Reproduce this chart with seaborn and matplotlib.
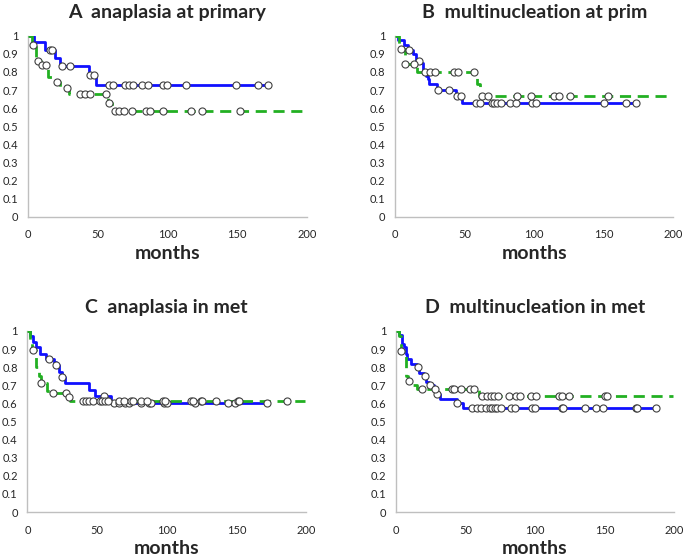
"""
Kaplan-Meier style survival panels (A-D): blue solid vs green dashed groups,
open circles for censored cases.
"""

import numpy as np
import pandas as pd
import matplotlib
matplotlib.use("Agg")
import matplotlib.pyplot as plt
import seaborn as sns

# ── Data ─────────────────────────────────────────────────────────────────────

# A  anaplasia at primary
A_BLUE_T = [4, 12, 19.5, 23, 44, 48.5]
A_BLUE_S = [0.963, 0.92, 0.88, 0.835, 0.785, 0.728]
A_BLUE_END = 172
A_BLUE_CENS = [16, 17.5, 24.5, 30, 44.5, 47, 58, 61, 69.5, 72.5, 75.5, 82, 86,
               97, 99.5, 113, 149, 165, 172]
A_GREEN_T = [3, 5.5, 9, 14.5, 20, 23, 29.5, 57, 60]
A_GREEN_S = [0.95, 0.862, 0.836, 0.77, 0.744, 0.71, 0.676, 0.629, 0.583]
A_GREEN_END = 199
A_GREEN_CENS = [3.6, 7, 10, 12.7, 20.8, 27.8, 37.6, 41, 44.7, 56, 58, 62, 65.3,
                68.9, 74.9, 84.4, 87.3, 96.9, 117, 125, 152]

# B  multinucleation at prim
B_BLUE_T = [2, 6, 9.5, 12.5, 15, 18.5, 20, 22, 23.5, 24.5, 30, 44, 48]
B_BLUE_S = [0.975, 0.95, 0.92, 0.9, 0.862, 0.85, 0.8, 0.78, 0.76, 0.735, 0.70,
            0.667, 0.628]
B_BLUE_END = 173
B_BLUE_CENS = [10, 17.3, 21.3, 30.5, 38.4, 44.5, 47.5, 58.3, 61.2, 69.3, 71,
               73.4, 76.3, 82.5, 86.6, 98.6, 101, 150, 165.7, 172.9]
B_GREEN_T = [2.4, 7, 15.8, 58.7, 61]
B_GREEN_S = [0.926, 0.846, 0.8, 0.733, 0.667]
B_GREEN_END = 199
B_GREEN_CENS = [4, 7.2, 13.4, 25.2, 28.5, 42.4, 45.3, 56.4, 62.6, 66.4, 87.8,
                97.6, 114, 117.5, 125.7, 152.8]

# C  anaplasia in met
C_BLUE_T = [1.7, 4, 6, 9, 13.6, 19, 20.5, 23, 24.5, 26.8, 44, 48.5, 60]
C_BLUE_S = [0.97, 0.94, 0.91, 0.875, 0.845, 0.83, 0.81, 0.775, 0.745, 0.71,
            0.675, 0.64, 0.60]
C_BLUE_END = 173
C_BLUE_CENS = [15.5, 20.8, 24.9, 55, 62, 66, 70, 73, 81.5, 87.5, 88.4, 97.7,
               100, 120, 144, 149, 172]
C_GREEN_T = [2, 3.5, 6, 8, 9.5, 14, 18, 29, 30.5]
C_GREEN_S = [0.95, 0.893, 0.80, 0.75, 0.713, 0.67, 0.656, 0.637, 0.615]
C_GREEN_END = 199
C_GREEN_CENS = [3.8, 10, 18.6, 28, 29.6, 40, 42.3, 44.4, 46.8, 51.8, 53.8, 55.7,
                58, 66, 69.3, 74.6, 76, 81.2, 86, 97, 99, 117.3, 119, 124.5,
                125.2, 135.5, 151, 152, 186.4]

# D  multinucleation in met
D_BLUE_T = [2.4, 4.3, 5.7, 7, 8, 10.5, 15, 16.8, 20, 21.5, 24, 27.3, 29, 31.6,
            43.6, 48]
D_BLUE_S = [0.975, 0.93, 0.91, 0.87, 0.845, 0.82, 0.80, 0.77, 0.75, 0.72, 0.70,
            0.68, 0.65, 0.625, 0.60, 0.572]
D_BLUE_END = 187.3
D_BLUE_CENS = [15.6, 20.6, 24.7, 29.7, 43.8, 55, 58, 61, 65, 67.4, 69.2, 71.4,
               73, 75.9, 82.4, 85.5, 98.2, 99.9, 119.3, 120, 136, 144.2, 149,
               172.5, 173.2, 187.3]
D_GREEN_T = [2, 3.5, 7, 9, 12, 15, 60]
D_GREEN_S = [0.97, 0.89, 0.75, 0.725, 0.70, 0.677, 0.64]
D_GREEN_END = 199
D_GREEN_CENS = [3.6, 9.3, 18.7, 28, 40, 42, 47, 53, 55.8, 62, 65.6, 68.7, 70.4,
                73.5, 81.2, 86, 89, 97, 100.6, 117, 119.5, 124.5, 150, 151.7]

TITLES = ["A  anaplasia at primary", "B  multinucleation at prim",
          "C  anaplasia in met", "D  multinucleation in met"]
X_TICKS = [0, 50, 100, 150, 200]
Y_TICKS = [0, 0.1, 0.2, 0.3, 0.4, 0.5, 0.6, 0.7, 0.8, 0.9, 1]
Y_TICK_LABELS = ["0", "0.1", "0.2", "0.3", "0.4", "0.5", "0.6", "0.7", "0.8",
                 "0.9", "1"]

# ── Style ────────────────────────────────────────────────────────────────────

BLUE = "#1010ff"
GREEN = "#22b022"
AXIS_GRAY = "#bfbfbf"

sns.set_theme(style="white")
plt.rcParams["font.family"] = ["Lato", "DejaVu Sans"]

# axes rectangles in figure fractions [left, bottom, width, height]
AX_RECTS = [
    [0.041, 0.612, 0.407, 0.324],
    [0.577, 0.612, 0.406, 0.324],
    [0.040, 0.084, 0.407, 0.324],
    [0.578, 0.084, 0.406, 0.324],
]


def step_frame(times, surv, end):
    return pd.DataFrame({"t": [0, *times, end], "s": [1.0, *surv, surv[-1]]})


def censor_frame(times, surv, cens):
    idx = np.searchsorted(times, cens, side="right")
    return pd.DataFrame({"t": cens, "s": np.r_[1.0, surv][idx]})


def draw_panel(ax, title, blue, green):
    bt, bs, bend, bc = blue
    gt, gs, gend, gc = green

    sns.lineplot(data=step_frame(bt, bs, bend), x="t", y="s", ax=ax,
                 drawstyle="steps-post", color=BLUE, linewidth=2.0,
                 estimator=None, sort=False, zorder=2)
    sns.lineplot(data=step_frame(gt, gs, gend), x="t", y="s", ax=ax,
                 drawstyle="steps-post", color=GREEN, linewidth=2.0,
                 linestyle=(0, (4, 2.4)), estimator=None, sort=False, zorder=3)

    cens = pd.concat([censor_frame(bt, bs, bc), censor_frame(gt, gs, gc)])
    sns.scatterplot(data=cens, x="t", y="s", ax=ax, marker="o", s=26,
                    facecolor="white", edgecolor="#404040", linewidth=0.8,
                    zorder=5, clip_on=False)

    ax.set_xlim(0, 200)
    ax.set_ylim(0, 1)
    ax.set_xticks(X_TICKS)
    ax.set_yticks(Y_TICKS)
    ax.set_yticklabels(Y_TICK_LABELS)
    for side in ["top", "right"]:
        ax.spines[side].set_visible(False)
    for side in ["left", "bottom"]:
        ax.spines[side].set_color(AXIS_GRAY)
        ax.spines[side].set_linewidth(1.0)
    ax.tick_params(axis="both", direction="out", length=4, width=1,
                   color=AXIS_GRAY, labelsize=8, labelcolor="#262626", pad=3)
    ax.tick_params(axis="x", pad=5)
    ax.set_title(title, fontsize=14, fontweight="bold", pad=13)
    ax.set_xlabel("months", fontsize=14, fontweight="bold", labelpad=3)
    ax.set_ylabel("")


# ── Main ─────────────────────────────────────────────────────────────────────

def main():
    fig = plt.figure(figsize=(6.85, 5.59), dpi=100)
    fig.patch.set_facecolor("white")

    panels = [
        ((A_BLUE_T, A_BLUE_S, A_BLUE_END, A_BLUE_CENS),
         (A_GREEN_T, A_GREEN_S, A_GREEN_END, A_GREEN_CENS)),
        ((B_BLUE_T, B_BLUE_S, B_BLUE_END, B_BLUE_CENS),
         (B_GREEN_T, B_GREEN_S, B_GREEN_END, B_GREEN_CENS)),
        ((C_BLUE_T, C_BLUE_S, C_BLUE_END, C_BLUE_CENS),
         (C_GREEN_T, C_GREEN_S, C_GREEN_END, C_GREEN_CENS)),
        ((D_BLUE_T, D_BLUE_S, D_BLUE_END, D_BLUE_CENS),
         (D_GREEN_T, D_GREEN_S, D_GREEN_END, D_GREEN_CENS)),
    ]

    for rect, title, (blue, green) in zip(AX_RECTS, TITLES, panels):
        ax = fig.add_axes(rect)
        draw_panel(ax, title, blue, green)

    fig.savefig("out.png", dpi=100, facecolor="white")
    plt.close(fig)


if __name__ == "__main__":
    main()
